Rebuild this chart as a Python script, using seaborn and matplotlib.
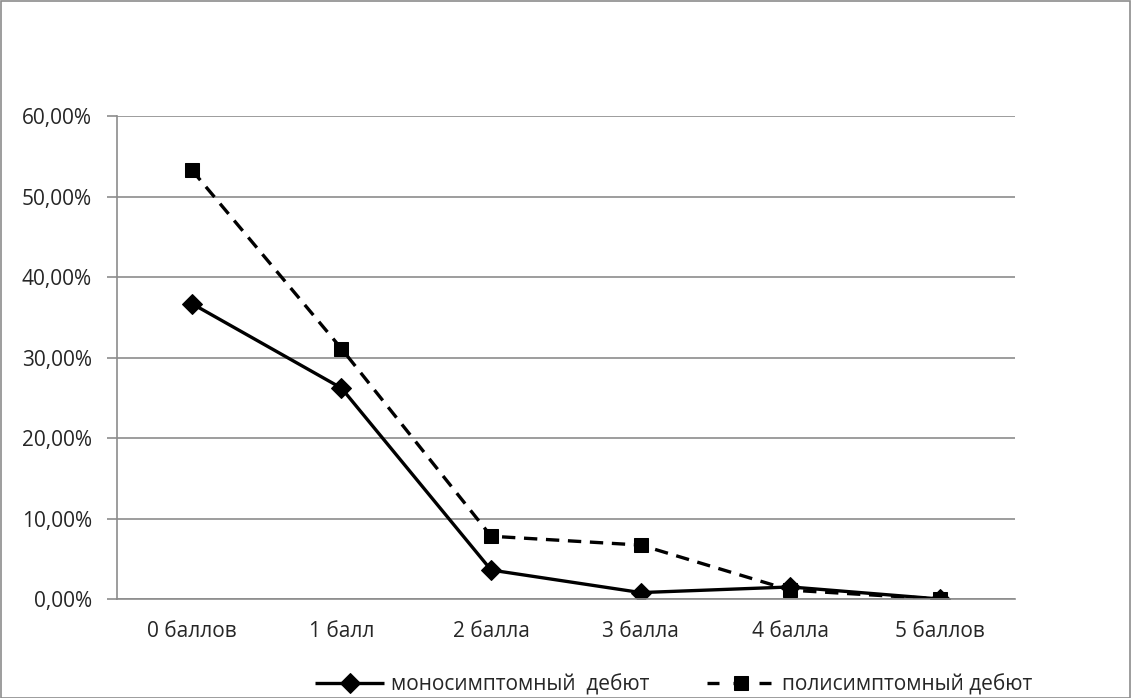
import matplotlib
matplotlib.use("Agg")
import matplotlib.pyplot as plt
import matplotlib.patches as mpatches
from matplotlib.ticker import FixedLocator, FuncFormatter
import seaborn as sns
import pandas as pd

categories = ["0 баллов", "1 балл", "2 балла", "3 балла", "4 балла", "5 баллов"]
mono_values = [36.7, 26.2, 3.6, 0.8, 1.5, 0.0]
poly_values = [53.3, 31.1, 7.8, 6.7, 1.1, 0.0]
series_names = ["моносимптомный  дебют", "полисимптомный дебют"]
y_ticks = [0, 10, 20, 30, 40, 50, 60]

sns.set_style("white")
plt.rcParams["font.family"] = ["Open Sans", "DejaVu Sans"]

fig = plt.figure(figsize=(11.31, 6.98), dpi=100)
ax = fig.add_axes([0.1034, 0.1418, 0.794, 0.692])

df = pd.DataFrame({
    "cat": categories * 2,
    "val": mono_values + poly_values,
    "series": [series_names[0]] * 6 + [series_names[1]] * 6,
})

sns.lineplot(data=df, x="cat", y="val", hue="series", style="series",
             palette=["black", "black"], markers=["D", "s"],
             dashes=[(1, 0), (4, 2.6)], linewidth=2.4, markersize=10,
             markeredgecolor="black", sort=False, ax=ax, legend=True)

ax.set_xlim(-0.5, 5.5)
ax.set_ylim(0, 60)
ax.set_xlabel("")
ax.set_ylabel("")
ax.yaxis.set_major_locator(FixedLocator(y_ticks))
ax.yaxis.set_major_formatter(FuncFormatter(lambda v, p: f"{v:.2f}%".replace(".", ",")))
ax.grid(axis="y", color="#8c8c8c", linewidth=1.2)
ax.set_axisbelow(True)
for s in ["top", "right"]:
    ax.spines[s].set_visible(False)
for s in ["left", "bottom"]:
    ax.spines[s].set_color("#8c8c8c")
    ax.spines[s].set_linewidth(1.2)

ax.set_xticks(range(6))
ax.set_xticklabels(categories)
ax.set_xticks([i - 0.5 for i in range(7)], minor=True)
ax.tick_params(axis="x", which="major", length=0, labelsize=15, pad=16)
ax.tick_params(axis="x", which="minor", length=6, color="#8c8c8c", width=1.2, direction="out")
ax.tick_params(axis="y", length=7, color="#8c8c8c", width=1.2, direction="out", labelsize=15, pad=11, left=True)

handles, labels = ax.get_legend_handles_labels()
ax.get_legend().remove()
leg = fig.legend(handles, labels, loc="center", bbox_to_anchor=(0.596, 0.019), ncol=2,
                 frameon=False, fontsize=15, handlelength=3.3, columnspacing=2.75, handletextpad=0.33)
leg.get_lines()[1].set_dashes((3.6, 4.2))

fig.add_artist(mpatches.Rectangle((0.001, 0.0), 0.998, 0.998, transform=fig.transFigure,
                                  fill=False, edgecolor="#8c8c8c", linewidth=1.2))

fig.savefig("out.png", dpi=100)
